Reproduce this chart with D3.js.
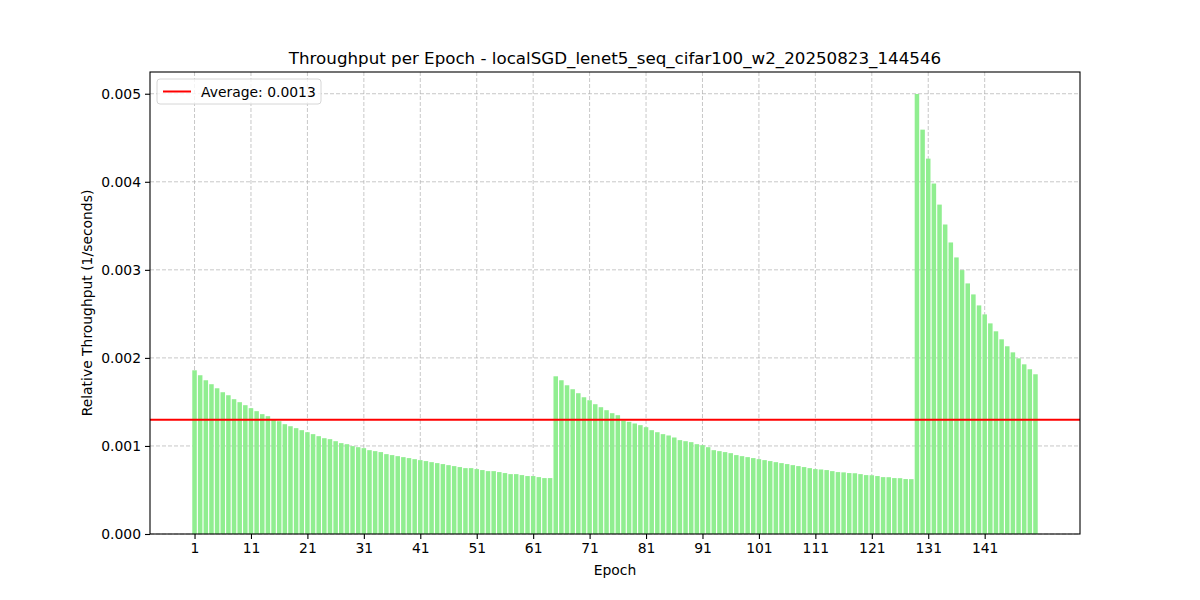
<!DOCTYPE html>
<html>
<head>
<meta charset="utf-8">
<script src="https://cdn.jsdelivr.net/npm/d3@7"></script>
<style>
  body { margin: 0; background: #fff; }
  text { font-family: "DejaVu Sans", sans-serif; fill: #000; }
</style>
</head>
<body>
<div id="chart"></div>
<script>
// epochs 1..150, relative throughput (1/seconds)
const seg1 = [1.859, 1.803, 1.746, 1.701, 1.655, 1.610, 1.576, 1.531, 1.497, 1.463,
  1.429, 1.395, 1.361, 1.338, 1.300, 1.281, 1.247, 1.224, 1.202, 1.179,
  1.156, 1.134, 1.111, 1.088, 1.077, 1.054, 1.032, 1.020, 0.998, 0.986,
  0.975, 0.952, 0.941, 0.930, 0.907, 0.896, 0.884, 0.873, 0.862, 0.850,
  0.839, 0.828, 0.816, 0.805, 0.794, 0.782, 0.771, 0.760, 0.748, 0.748,
  0.737, 0.726, 0.714, 0.714, 0.703, 0.692, 0.680, 0.680, 0.669, 0.658,
  0.658, 0.646, 0.635, 0.635]
const seg2 = [1.791, 1.746, 1.689, 1.644, 1.599, 1.553, 1.519, 1.474, 1.440, 1.406,
  1.372, 1.349, 1.289, 1.274, 1.255, 1.236, 1.213, 1.179, 1.156, 1.134,
  1.119, 1.096, 1.066, 1.054, 1.043, 1.020, 1.009, 0.986, 0.952, 0.941,
  0.930, 0.918, 0.896, 0.884, 0.873, 0.862, 0.850, 0.839, 0.828, 0.816,
  0.805, 0.794, 0.782, 0.771, 0.760, 0.748, 0.737, 0.733, 0.726, 0.714,
  0.703, 0.700, 0.692, 0.690, 0.680, 0.669, 0.667, 0.658, 0.646, 0.645,
  0.635, 0.634, 0.624, 0.623]
const seg3 = [4.997, 4.592, 4.263, 3.980, 3.741, 3.515, 3.311, 3.141, 2.997, 2.846,
  2.721, 2.596, 2.494, 2.392, 2.302, 2.211, 2.132, 2.063, 1.995, 1.927,
  1.871, 1.814]
const throughput = seg1.concat(seg2, seg3).map(v => v / 1000)
const epochs = throughput.map((v, i) => i + 1)
const xTicks = [1, 11, 21, 31, 41, 51, 61, 71, 81, 91, 101, 111, 121, 131, 141]
const yTicks = [0, 0.001, 0.002, 0.003, 0.004, 0.005]
const avgValue = d3.mean(throughput)

const runName = "localSGD_lenet5_seq_cifar100_w2_20250823_144546"

const margin = {top: 72, right: 120, bottom: 66, left: 150},
  width = 1200 - margin.left - margin.right,
  height = 600 - margin.top - margin.bottom

const svg = d3.select("#chart")
  .append("svg")
    .attr("width", 1200)
    .attr("height", 600)
  .append("g")
    .attr("transform", `translate(${margin.left},${margin.top})`)

// matplotlib style margins: 5% on each side of the bars
const lo = 1 - 0.4, hi = epochs.length + 0.4, pad = (hi - lo) * 0.05
const x = d3.scaleLinear()
  .domain([lo - pad, hi + pad])
  .range([0, width])

const yMax = d3.max(throughput) * 1.05
const y = d3.scaleLinear()
  .domain([0, yMax])
  .range([height, 0])

const barW = x(0.8) - x(0)

// grid (behind the bars)
const grid = svg.append("g")
  .attr("stroke", "#b0b0b0")
  .attr("stroke-opacity", 0.7)
  .attr("stroke-width", 1)
  .attr("stroke-dasharray", "4,2")
grid.selectAll(".gx")
  .data(xTicks)
  .enter()
  .append("line")
    .attr("x1", d => x(d)).attr("x2", d => x(d))
    .attr("y1", 0).attr("y2", height)
grid.selectAll(".gy")
  .data(yTicks)
  .enter()
  .append("line")
    .attr("x1", 0).attr("x2", width)
    .attr("y1", d => y(d)).attr("y2", d => y(d))

// bars
svg.append("g")
  .selectAll("rect")
  .data(throughput)
  .enter()
  .append("rect")
    .attr("x", (d, i) => x(epochs[i] - 0.4))
    .attr("y", d => y(d))
    .attr("width", barW)
    .attr("height", d => height - y(d))
    .style("fill", "#90ee90")

// average line
svg.append("line")
  .attr("x1", 0).attr("x2", width)
  .attr("y1", y(avgValue)).attr("y2", y(avgValue))
  .attr("stroke", "#ff0000")
  .attr("stroke-width", 2)

// axes
const xAxis = svg.append("g")
  .attr("transform", `translate(0, ${height})`)
  .call(d3.axisBottom(x).tickValues(xTicks).tickSizeOuter(0).tickSize(5).tickPadding(4))
const yAxis = svg.append("g")
  .call(d3.axisLeft(y).tickValues(yTicks).tickFormat(d3.format(".3f")).tickSizeOuter(0).tickSize(5).tickPadding(4))

svg.selectAll(".tick text")
  .style("font-size", "13.9px")
  .style("font-family", "DejaVu Sans")
svg.selectAll(".tick line").attr("stroke", "#000").attr("stroke-width", 1.1)
xAxis.select(".domain").remove()
yAxis.select(".domain").remove()

// frame
svg.append("rect")
  .attr("x", 0).attr("y", 0)
  .attr("width", width).attr("height", height)
  .attr("fill", "none")
  .attr("stroke", "#000")
  .attr("stroke-width", 1.1)

// title and labels
svg.append("text")
  .attr("x", width / 2)
  .attr("y", -8)
  .attr("text-anchor", "middle")
  .style("font-size", "16.7px")
  .text(`Throughput per Epoch - ${runName}`)

svg.append("text")
  .attr("x", width / 2)
  .attr("y", height + 41)
  .attr("text-anchor", "middle")
  .style("font-size", "13.9px")
  .text("Epoch")

svg.append("text")
  .attr("transform", `translate(${-58}, ${height / 2}) rotate(-90)`)
  .attr("text-anchor", "middle")
  .style("font-size", "13.9px")
  .text("Relative Throughput (1/seconds)")

// legend
const legend = svg.append("g")
  .attr("transform", "translate(7, 7)")
legend.append("rect")
  .attr("width", 164)
  .attr("height", 25)
  .attr("rx", 3)
  .attr("fill", "#fff")
  .attr("fill-opacity", 0.8)
  .attr("stroke", "#d6d6d6")
legend.append("line")
  .attr("x1", 6).attr("x2", 34)
  .attr("y1", 12.5).attr("y2", 12.5)
  .attr("stroke", "#ff0000")
  .attr("stroke-width", 2)
legend.append("text")
  .attr("x", 44)
  .attr("y", 17.5)
  .style("font-size", "13.9px")
  .text(`Average: ${avgValue.toFixed(4)}`)
</script>
</body>
</html>
